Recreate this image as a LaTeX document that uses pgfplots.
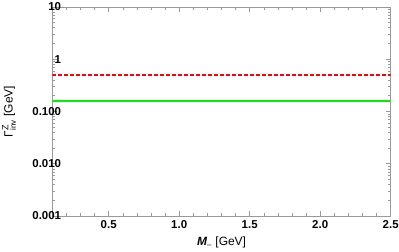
\documentclass[border=0pt]{standalone}
\usepackage{pgfplots}
\pgfplotsset{compat=1.18}
\usepackage{fontspec}
\setmainfont{Liberation Sans}
\setsansfont{Liberation Sans}
\definecolor{framegray}{gray}{0.6}
\definecolor{mgreen}{rgb}{0,0.95,0}
\begin{document}
\begin{tikzpicture}
\path[use as bounding box] (-52.3bp,-36bp) rectangle (346.7bp,216bp);
\begin{axis}[
  at={(0,0)}, anchor=south west,
  scale only axis,
  width=338.4bp, height=209bp,
  xmin=0.1, xmax=2.5,
  ymode=log, ymin=0.001, ymax=10,
  axis line style={framegray, line width=0.6pt},
  tick style={framegray, line width=0.6pt},
  tick align=inside,
  major tick length=5bp, minor tick length=3bp,
  xtick={0.5,1.0,1.5,2.0,2.5},
  xticklabels={0.5,1.0,1.5,2.0,2.5},
  minor xtick={0.1,0.2,...,2.5},
  ytick={0.001,0.01,0.1,1,10},
  yticklabels={0.001,0.010,0.100,1,10},
  ticklabel style={font=\fontsize{11.5}{13}\selectfont\bfseries, text=black},
  xticklabel style={yshift=-1bp},
  yticklabel style={inner sep=1bp, anchor=east, xshift=10bp},
  /pgf/number format/assume math mode=true,
  xlabel={\textit{\textbf{M}}$_{\mbox{\fontsize{8}{9}\selectfont --}}$ [GeV]},
  ylabel={Γ$^{\mbox{\fontsize{9}{10}\selectfont Z}}_{\mbox{\fontsize{8}{9}\selectfont inv}}$ [GeV]},
  every axis x label/.style={at={(axis description cs:0.5,-0.125)}, anchor=center, font=\fontsize{12}{14}\selectfont},
  every axis y label/.style={at={(axis description cs:-0.128,0.5)}, anchor=center, rotate=90, font=\fontsize{12}{14}\selectfont},
  clip=true,
]
\addplot[mgreen, line width=2.6bp] coordinates {(0.1,0.158) (2.5,0.158)};
\addplot[red, line width=1.3bp, dash pattern=on 3.5bp off 2.5bp] coordinates {(0.1,0.5) (2.5,0.5)};
\end{axis}
\end{tikzpicture}
\end{document}
